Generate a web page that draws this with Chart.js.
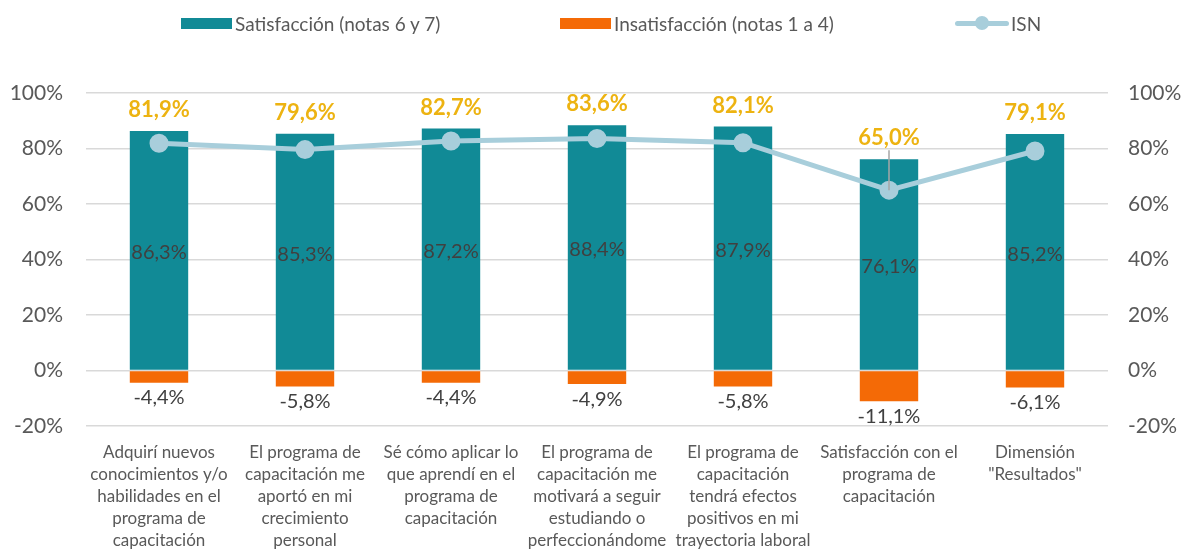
<!DOCTYPE html>
<html>
<head>
<meta charset="utf-8">
<script src="https://cdn.jsdelivr.net/npm/chart.js@4.4.0/dist/chart.umd.min.js"></script>
<style>
    body { margin: 0; background: #fff; }
    #wrap { position: relative; width: 1182px; height: 550px; }
    #legend { position: absolute; top: 8px; left: 0; width: 1182px; height: 30px; font-family: Lato, sans-serif; font-size: 19px; color: #595959; }
    .item { position: absolute; top: 0; display: flex; align-items: center; height: 30px; }
    .box { width: 51px; height: 11px; margin-right: 3px; }
    .lineKey { position: relative; width: 54px; height: 14px; margin-right: 2px; }
    .lineKey:before { content: ''; position: absolute; left: 0; right: 0; top: 5px; height: 5px; background: #A8CEDB; border-radius: 3px; }
    .lineKey:after { content: ''; position: absolute; left: 20px; top: 0; width: 14px; height: 14px; border-radius: 50%; background: #A8CEDB; }
</style>
</head>
<body>
<div id="wrap">
    <canvas id="chart" width="1182" height="550"></canvas>
    <div id="legend">
        <div class="item" style="left:181px"><span class="box" style="background:#118A96"></span>Satisfacción (notas 6 y 7)</div>
        <div class="item" style="left:560px"><span class="box" style="background:#F46A06"></span>Insatisfacción (notas 1 a 4)</div>
        <div class="item" style="left:955px"><span class="lineKey"></span>ISN</div>
    </div>
</div>
<script>
// categories (multi-line labels)
const categories = [
    ['Adquirí nuevos', 'conocimientos y/o', 'habilidades en el', 'programa de', 'capacitación'],
    ['El programa de', 'capacitación me', 'aportó en mi', 'crecimiento', 'personal'],
    ['Sé cómo aplicar lo', 'que aprendí en el', 'programa de', 'capacitación'],
    ['El programa de', 'capacitación me', 'motivará a seguir', 'estudiando o', 'perfeccionándome'],
    ['El programa de', 'capacitación', 'tendrá efectos', 'positivos en mi', 'trayectoria laboral'],
    ['Satisfacción con el', 'programa de', 'capacitación'],
    ['Dimensión', '"Resultados"']
];
const satisfaccion = [86.3, 85.3, 87.2, 88.4, 87.9, 76.1, 85.2];
const insatisfaccion = [-4.4, -5.8, -4.4, -4.9, -5.8, -11.1, -6.1];
const isn = [81.9, 79.6, 82.7, 83.6, 82.1, 65.0, 79.1];
const axisTicks = [-20, 0, 20, 40, 60, 80, 100];

const fmt = v => v.toFixed(1).replace('.', ',') + '%';
const FONT = 'Lato, sans-serif';

// draws the value labels (no datalabels plugin available offline)
const labelPlugin = {
    id: 'valueLabels',
    afterDatasetsDraw(chart) {
        const c = chart.ctx;
        const x = chart.scales.x, y = chart.scales.y, y2 = chart.scales.y2;
        c.save();
        c.textAlign = 'center';
        c.textBaseline = 'middle';
        satisfaccion.forEach((v, i) => {
            const cx = x.getPixelForValue(i);
            const top = y.getPixelForValue(v);
            const zero = y.getPixelForValue(0);
            // inside label
            c.font = '20px ' + FONT;
            c.fillStyle = '#404040';
            c.fillText(fmt(v), cx, (top + zero) / 2 + 2);
            // negative label under the orange bar
            const bottom = y.getPixelForValue(insatisfaccion[i]);
            c.fillText(fmt(insatisfaccion[i]), cx, bottom + 15);
            // ISN label above bar, with leader line when far from its point
            const ly = top - 21;
            const py = y2.getPixelForValue(isn[i]);
            if (py - ly > 42) {
                c.strokeStyle = '#A6A6A6';
                c.lineWidth = 1.5;
                c.beginPath();
                c.moveTo(cx, ly + 12);
                c.lineTo(cx, py);
                c.stroke();
            }
            c.font = 'bold 22px ' + FONT;
            c.fillStyle = '#EDB311';
            c.fillText(fmt(isn[i]), cx, ly);
        });
        c.restore();
    }
};

const ctx = document.getElementById('chart').getContext('2d');
new Chart(ctx, {
    type: 'bar',
    data: {
        labels: categories,
        datasets: [
            {
                type: 'line',
                label: 'ISN',
                data: isn,
                yAxisID: 'y2',
                borderColor: '#A8CEDB',
                backgroundColor: '#A8CEDB',
                borderWidth: 5,
                pointRadius: 7,
                pointHoverRadius: 7,
                tension: 0,
                order: 0
            },
            {
                label: 'Satisfacción (notas 6 y 7)',
                data: satisfaccion,
                backgroundColor: '#118A96',
                stack: 's',
                order: 1
            },
            {
                label: 'Insatisfacción (notas 1 a 4)',
                data: insatisfaccion,
                backgroundColor: '#F46A06',
                stack: 's',
                order: 1
            }
        ]
    },
    options: {
        responsive: false,
        animation: false,
        layout: { padding: { top: 93, left: 0, right: 0, bottom: 0 } },
        datasets: { bar: { categoryPercentage: 1, barPercentage: 0.4 } },
        plugins: {
            legend: { display: false },
            tooltip: { enabled: false }
        },
        scales: {
            x: {
                stacked: true,
                grid: { display: false },
                border: { display: false },
                ticks: {
                    color: '#595959',
                    font: { family: FONT, size: 17, lineHeight: 1.3 },
                    maxRotation: 0,
                    autoSkip: false,
                    padding: 7
                },
                afterFit: s => { s.height = 124; }
            },
            y: {
                stacked: true,
                min: -20,
                max: 100,
                afterBuildTicks: s => { s.ticks = axisTicks.map(v => ({ value: v })); },
                grid: { color: '#D9D9D9', lineWidth: 1.5, drawTicks: false },
                border: { display: false },
                ticks: {
                    color: '#595959',
                    font: { family: FONT, size: 21 },
                    padding: 23,
                    callback: v => v + '%'
                },
                afterFit: s => { s.width = 86; }
            },
            y2: {
                position: 'right',
                min: -20,
                max: 100,
                afterBuildTicks: s => { s.ticks = axisTicks.map(v => ({ value: v })); },
                grid: { display: false, drawTicks: false },
                border: { display: false },
                ticks: {
                    color: '#595959',
                    font: { family: FONT, size: 21 },
                    padding: 20,
                    callback: v => v + '%'
                },
                afterFit: s => { s.width = 74; }
            }
        }
    },
    plugins: [labelPlugin]
});
</script>
</body>
</html>
